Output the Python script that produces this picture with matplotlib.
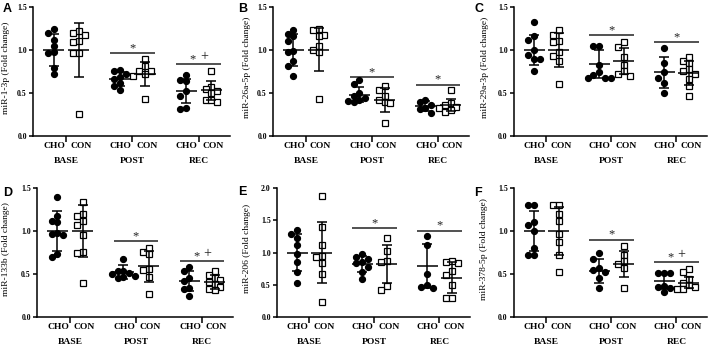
import matplotlib
matplotlib.use('Agg')
import matplotlib.pyplot as plt
import numpy as np

plt.rcParams['font.family'] = ['Liberation Serif', 'DejaVu Serif']
plt.rcParams['font.weight'] = 'bold'

# ---------------- data ----------------
GROUPS = ['BASE', 'POST', 'REC']
CONDS = ['CHO', 'CON']

# Panel A: miR-1-3p
A_CHO = [[1.24, 1.20, 1.12, 1.05, 0.98, 0.97, 0.79, 0.72],
         [0.77, 0.75, 0.72, 0.69, 0.66, 0.62, 0.58, 0.53],
         [0.71, 0.65, 0.64, 0.52, 0.46, 0.32, 0.31]]
A_CON = [[1.22, 1.20, 1.17, 1.11, 1.09, 0.97, 0.97, 0.26],
         [0.89, 0.81, 0.76, 0.75, 0.72, 0.70, 0.43],
         [0.75, 0.57, 0.55, 0.52, 0.50, 0.42, 0.42, 0.39]]
A_CHO_MEAN = [1.00, 0.66, 0.52]
A_CHO_SD = [0.19, 0.08, 0.14]
A_CON_MEAN = [1.00, 0.72, 0.53]
A_CON_SD = [0.31, 0.14, 0.11]
A_SIG = [0.965, 0.837]
A_SIG_TXT = ['*', '* +']

# Panel B: miR-26a-5p
B_CHO = [[1.23, 1.19, 1.16, 1.11, 0.99, 0.98, 0.87, 0.81, 0.70],
         [0.65, 0.60, 0.50, 0.47, 0.44, 0.42, 0.41, 0.40],
         [0.42, 0.40, 0.36, 0.33, 0.31, 0.27]]
B_CON = [[1.24, 1.23, 1.18, 1.16, 1.05, 1.00, 0.98, 0.43],
         [0.58, 0.53, 0.47, 0.42, 0.39, 0.38, 0.15],
         [0.53, 0.38, 0.36, 0.34, 0.33, 0.30, 0.28]]
B_CHO_MEAN = [1.00, 0.48, 0.35]
B_CHO_SD = [0.19, 0.09, 0.06]
B_CON_MEAN = [1.00, 0.42, 0.36]
B_CON_SD = [0.25, 0.14, 0.07]
B_SIG = [0.685, 0.595]
B_SIG_TXT = ['*', '*']

# Panel C: miR-29a-3p
C_CHO = [[1.32, 1.16, 1.12, 1.00, 0.94, 0.90, 0.89, 0.75],
         [1.05, 1.05, 0.82, 0.74, 0.71, 0.68, 0.68, 0.68],
         [1.02, 0.85, 0.74, 0.68, 0.62, 0.50]]
C_CON = [[1.23, 1.17, 1.10, 1.09, 0.98, 0.93, 0.87, 0.60],
         [1.09, 1.04, 0.92, 0.83, 0.75, 0.72, 0.70],
         [0.92, 0.87, 0.85, 0.78, 0.75, 0.72, 0.66, 0.58, 0.46]]
C_CHO_MEAN = [1.00, 0.84, 0.74]
C_CHO_SD = [0.18, 0.16, 0.18]
C_CON_MEAN = [1.00, 0.87, 0.73]
C_CON_SD = [0.20, 0.15, 0.14]
C_SIG = [1.17, 1.09]
C_SIG_TXT = ['*', '*']

# Panel D: miR-133b
D_CHO = [[1.39, 1.18, 1.12, 1.10, 0.98, 0.97, 0.95, 0.73, 0.70],
         [0.67, 0.54, 0.53, 0.51, 0.50, 0.48, 0.46, 0.45],
         [0.58, 0.54, 0.45, 0.42, 0.34, 0.33, 0.25]]
D_CON = [[1.34, 1.20, 1.17, 1.12, 1.07, 0.95, 0.76, 0.74, 0.39],
         [0.80, 0.76, 0.73, 0.56, 0.55, 0.47, 0.27],
         [0.54, 0.49, 0.45, 0.43, 0.41, 0.38, 0.35, 0.33, 0.31]]
D_CHO_MEAN = [1.00, 0.52, 0.42]
D_CHO_SD = [0.23, 0.08, 0.12]
D_CON_MEAN = [1.00, 0.59, 0.41]
D_CON_SD = [0.30, 0.18, 0.08]
D_SIG = [0.88, 0.65]
D_SIG_TXT = ['*', '* +']

# Panel E: miR-206
E_CHO = [[1.35, 1.28, 1.22, 1.12, 0.97, 0.85, 0.70, 0.53],
         [0.98, 0.93, 0.90, 0.86, 0.83, 0.78, 0.69, 0.59],
         [1.26, 1.12, 0.67, 0.50, 0.47, 0.45]]
E_CON = [[1.87, 1.39, 1.12, 0.95, 0.93, 0.83, 0.67, 0.24],
         [1.23, 1.03, 0.87, 0.85, 0.48, 0.42],
         [0.87, 0.86, 0.83, 0.71, 0.65, 0.50, 0.29, 0.29]]
E_CHO_MEAN = [1.00, 0.82, 0.79]
E_CHO_SD = [0.28, 0.13, 0.34]
E_CON_MEAN = [1.00, 0.82, 0.61]
E_CON_SD = [0.48, 0.29, 0.24]
E_SIG = [1.38, 1.34]
E_SIG_TXT = ['*', '*']

# Panel F: miR-378-5p
F_CHO = [[1.30, 1.30, 1.10, 1.07, 1.00, 0.80, 0.72, 0.72],
         [0.74, 0.68, 0.57, 0.55, 0.52, 0.45, 0.34],
         [0.51, 0.51, 0.51, 0.36, 0.35, 0.34, 0.29]]
F_CON = [[1.30, 1.30, 1.20, 1.12, 0.97, 0.87, 0.72, 0.52],
         [0.82, 0.72, 0.65, 0.62, 0.57, 0.34],
         [0.56, 0.52, 0.44, 0.40, 0.37, 0.35, 0.33, 0.32]]
F_CHO_MEAN = [1.00, 0.54, 0.42]
F_CHO_SD = [0.23, 0.14, 0.09]
F_CON_MEAN = [1.00, 0.62, 0.40]
F_CON_SD = [0.28, 0.15, 0.06]
F_SIG = [0.90, 0.64]
F_SIG_TXT = ['*', '* +']

LETTERS = ['A', 'B', 'C', 'D', 'E', 'F']
YLABELS = ['miR-1-3p (Fold change)', 'miR-26a-5p (Fold change)',
           'miR-29a-3p (Fold change)', 'miR-133b (Fold change)',
           'miR-206 (Fold change)', 'miR-378-5p (Fold change)']
YMAX = [1.5, 1.5, 1.5, 1.5, 2.0, 1.5]
YTICKS = [[0, 0.5, 1.0, 1.5]] * 4 + [[0, 0.5, 1.0, 1.5, 2.0], [0, 0.5, 1.0, 1.5]]

# ---------------- layout ----------------
W, H = 709, 347
fig = plt.figure(figsize=(W / 100, H / 100), dpi=100)

# (left, top, right, bottom) in pixels
RECTS = [(33, 7, 230, 136), (273, 7, 469, 136), (514, 7, 707, 136),
         (37, 188, 233, 317), (277, 188, 470, 317), (514, 188, 707, 317)]
LETTER_POS = [(3, 3), (238, 3), (475, 3), (3, 187), (238, 186), (474, 187)]
YLAB_RIGHT = [10, 251, 489, 10.5, 251, 488]

OFF = 0.19                  # marker column offset
LAB_OFF = (-0.18, 0.22)     # CHO / CON label offsets


def swarm(ax, x0, vals, diam):
    trans = ax.transData
    inv = trans.inverted()
    x0px = trans.transform((x0, 0))[0]
    order = np.argsort(vals)[::-1]
    placed = []
    xs = np.zeros(len(vals))
    for i in order:
        ypx = trans.transform((x0, vals[i]))[1]
        for k in [0, -1, 1, -2, 2, -3, 3]:
            xpx = x0px + k * diam
            if all((xpx - px) ** 2 + (ypx - py) ** 2 >= (diam * 0.98) ** 2
                   for px, py in placed):
                break
        placed.append((xpx, ypx))
        xs[i] = inv.transform((xpx, ypx))[0]
    return xs


datasets = [
    (A_CHO, A_CON, A_CHO_MEAN, A_CHO_SD, A_CON_MEAN, A_CON_SD, A_SIG, A_SIG_TXT),
    (B_CHO, B_CON, B_CHO_MEAN, B_CHO_SD, B_CON_MEAN, B_CON_SD, B_SIG, B_SIG_TXT),
    (C_CHO, C_CON, C_CHO_MEAN, C_CHO_SD, C_CON_MEAN, C_CON_SD, C_SIG, C_SIG_TXT),
    (D_CHO, D_CON, D_CHO_MEAN, D_CHO_SD, D_CON_MEAN, D_CON_SD, D_SIG, D_SIG_TXT),
    (E_CHO, E_CON, E_CHO_MEAN, E_CHO_SD, E_CON_MEAN, E_CON_SD, E_SIG, E_SIG_TXT),
    (F_CHO, F_CON, F_CHO_MEAN, F_CHO_SD, F_CON_MEAN, F_CON_SD, F_SIG, F_SIG_TXT),
]

for p, (cho, con, cm, cs, nm, ns, sig, sigtxt) in enumerate(datasets):
    l, t, r, b = RECTS[p]
    ax = fig.add_axes([l / W, 1 - b / H, (r - l) / W, (b - t) / H])
    ax.set_xlim(0.5, 3.47)
    ax.set_ylim(0, YMAX[p])
    for s in ['top', 'right']:
        ax.spines[s].set_visible(False)
    for s in ['left', 'bottom']:
        ax.spines[s].set_linewidth(1.1)
    ax.set_yticks(YTICKS[p])
    ax.set_yticklabels(['%.1f' % v for v in YTICKS[p]])
    ax.tick_params(axis='y', length=3, width=1.1, pad=1.5, labelsize=5.6)
    gx = np.arange(1, 4)
    ax.set_xticks(gx)
    ax.set_xticklabels(GROUPS)
    minor = []
    for g in gx:
        minor += [g + LAB_OFF[0], g + LAB_OFF[1]]
    ax.set_xticks(minor, minor=True)
    ax.set_xticklabels(CONDS * 3, minor=True)
    ax.tick_params(axis='x', which='major', length=4, width=1.1, pad=11, labelsize=6.8)
    ax.tick_params(axis='x', which='minor', length=0, pad=4.5, labelsize=6.8)

    for gi in range(3):
        for ci, (vals, means, sds, mk, fc) in enumerate([
                (cho, cm, cs, 'o', 'black'), (con, nm, ns, 's', 'white')]):
            x0 = gx[gi] + (-OFF if ci == 0 else OFF)
            v = np.array(vals[gi])
            xs = swarm(ax, x0, v, 5.8)
            ax.plot(xs, v, linestyle='none', marker=mk, markersize=4.3 if mk == 'o' else 4.0,
                    markerfacecolor=fc, markeredgecolor='black', markeredgewidth=0.9,
                    clip_on=False, zorder=3)
            ax.errorbar([x0], [means[gi]], yerr=[sds[gi]], fmt='none', ecolor='black',
                        elinewidth=1.1, capsize=3.5, capthick=1.1, zorder=4)
            ax.hlines(means[gi], x0 - 0.16, x0 + 0.16, colors='black', linewidth=1.1, zorder=4)

    for k, gi in enumerate([1, 2]):
        ax.hlines(sig[k], gx[gi] - 0.34, gx[gi] + 0.34, colors='#333333', linewidth=1.2)
        if '+' in sigtxt[k]:
            ax.annotate('*', (gx[gi] - 0.09, sig[k]), xytext=(0, 1.5),
                        textcoords='offset points', ha='center', va='baseline',
                        fontsize=9, fontweight='normal', color='#222222')
            ax.annotate('+', (gx[gi] + 0.075, sig[k]), xytext=(0, 2.8),
                        textcoords='offset points', ha='center', va='baseline',
                        fontsize=10, fontweight='normal', color='#222222')
        else:
            ax.annotate('*', (gx[gi], sig[k]), xytext=(0, 1.5),
                        textcoords='offset points', ha='center', va='baseline',
                        fontsize=9, fontweight='normal', color='#222222')

    ax.set_ylabel(YLABELS[p], fontsize=6.8)
    ax.yaxis.set_label_coords((YLAB_RIGHT[p] - l) / (r - l), 0.53)

    lx, ly = LETTER_POS[p]
    fig.text(lx / W, 1 - ly / H, LETTERS[p], family='Liberation Sans', fontweight='bold',
             fontsize=9, ha='left', va='top')

fig.savefig('out.png', dpi=100)
